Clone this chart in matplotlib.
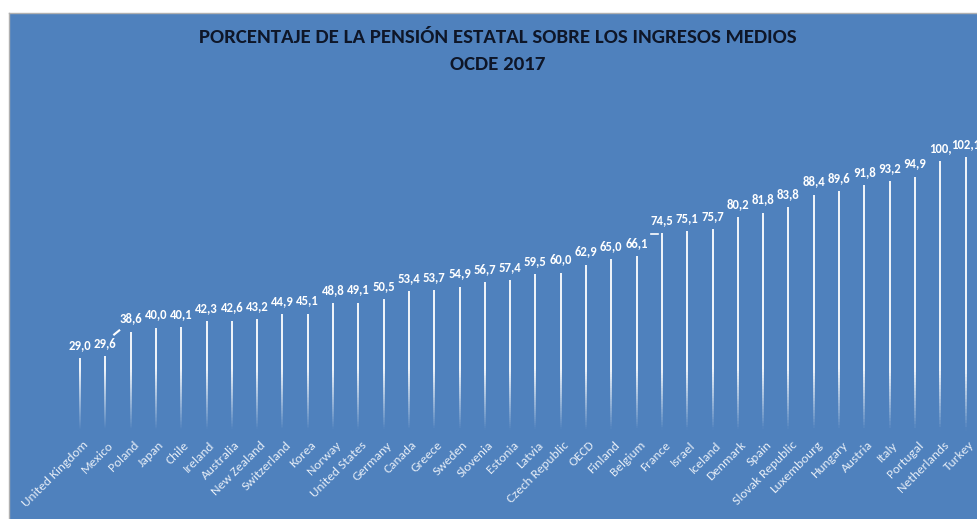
import numpy as np
from matplotlib import pyplot as plt
from matplotlib.collections import LineCollection

# countries sorted by value, as in the chart
countries = ["United Kingdom", "Mexico", "Poland", "Japan", "Chile", "Ireland",
             "Australia", "New Zealand", "Switzerland", "Korea", "Norway",
             "United States", "Germany", "Canada", "Greece", "Sweden", "Slovenia",
             "Estonia", "Latvia", "Czech Republic", "OECD", "Finland", "Belgium",
             "France", "Israel", "Iceland", "Denmark", "Spain", "Slovak Republic",
             "Luxembourg", "Hungary", "Austria", "Italy", "Portugal", "Netherlands",
             "Turkey"]
values = [29.0, 29.6, 38.6, 40.0, 40.1, 42.3, 42.6, 43.2, 44.9, 45.1, 48.8,
          49.1, 50.5, 53.4, 53.7, 54.9, 56.7, 57.4, 59.5, 60.0, 62.9, 65.0, 66.1,
          74.5, 75.1, 75.7, 80.2, 81.8, 83.8, 88.4, 89.6, 91.8, 93.2, 94.9, 100.6,
          102.1]

bg = "#4F81BD"
plt.rcParams['font.family'] = ['Carlito', 'Lato', 'DejaVu Sans']

fig = plt.figure(figsize=(9.78, 5.19), dpi=100, facecolor="white")
ax = fig.add_axes([9 / 978, 0, 969 / 978, 506 / 519])
ax.set_facecolor(bg)
for s in ax.spines.values():
    s.set_visible(False)
ax.set_xticks([])
ax.set_yticks([])
ax.set_xlim(-2.806, 35.49)
ax.set_ylim(-29.56, 154.4)

# thin white bars that fade out towards the bottom
segs, cols = [], []
for i, v in enumerate(values):
    edges = np.linspace(0, v, 80)
    for a, b in zip(edges[:-1], edges[1:]):
        segs.append([(i, a), (i, b)])
        alpha = np.clip((0.5 * (a + b) - 3) / 22, 0, 1)
        cols.append((1, 1, 1, alpha))
ax.add_collection(LineCollection(segs, colors=cols, linewidths=1.3,
                                 capstyle='butt'))

for i, v in enumerate(values):
    lab = "100," if 100 <= v < 101 else f"{v:.1f}".replace(".", ",")
    ax.text(i, v + 2.6, lab, ha='center', va='bottom', color='white',
            fontsize=9.2, fontweight='bold')
    ax.text(i + 0.1, -0.6, countries[i], rotation=45, rotation_mode='anchor',
            ha='right', va='top', color='#E4ECF6', fontsize=9.6)

# small leader lines seen in the original
ax.plot([1.35, 1.55], [37.5, 39.0], color='white', lw=1.5)
ax.plot([22.55, 22.85], [74.0, 74.0], color='white', lw=1.2)

fig.text(0.509, 0.928, "PORCENTAJE DE LA PENSIÓN ESTATAL SOBRE LOS INGRESOS MEDIOS",
         ha='center', va='center', fontsize=15, fontweight='bold', color='#0E1628')
fig.text(0.509, 0.875, "OCDE 2017", ha='center', va='center', fontsize=15,
         fontweight='bold', color='#0E1628')

# frame edge lines of the chart object
fig.add_artist(plt.Line2D([9 / 978, 1], [506 / 519, 506 / 519], color='#B0B0B0', lw=1))
fig.add_artist(plt.Line2D([9 / 978, 9 / 978], [0, 506 / 519], color='#B0B0B0', lw=1))

fig.savefig("out.png", dpi=100, facecolor=fig.get_facecolor())
